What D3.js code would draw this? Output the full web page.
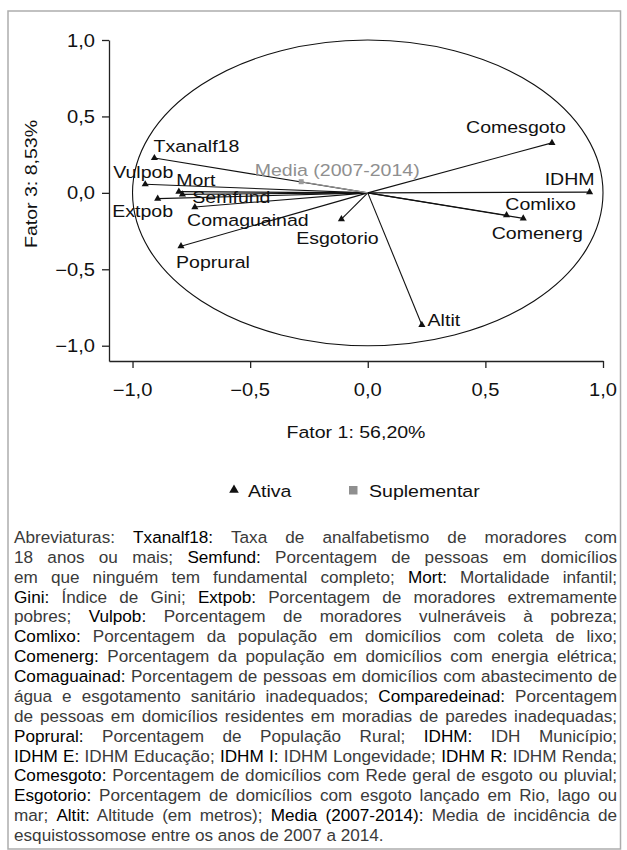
<!DOCTYPE html>
<html>
<head>
<meta charset="utf-8">
<script src="https://cdn.jsdelivr.net/npm/d3@7"></script>
<style>
body { margin: 0; background: #fff; }
svg { display: block; }
text { font-family: "Liberation Sans", Arial, Helvetica, sans-serif; }
</style>
</head>
<body>
<svg id="chart" width="627" height="850"></svg>
<script>
'use strict';
// variable names and their coordinates on factors 1 and 3
const varNames = ["Comesgoto", "IDHM", "Comlixo", "Comenerg", "Altit", "Esgotorio",
	"Poprural", "Comaguainad", "Semfund", "Mort", "Extpob", "Vulpob", "Txanalf18",
	"Media (2007-2014)"]
const fator1 = [0.783, 0.943, 0.590, 0.661, 0.230, -0.112,
	-0.794, -0.735, -0.788, -0.803, -0.893, -0.946, -0.907, -0.283]
const fator3 = [0.327, 0.005, -0.146, -0.167, -0.864, -0.172,
	-0.349, -0.093, -0.010, 0.008, -0.038, 0.056, 0.228, 0.073]
const varTypes = ["ativa", "ativa", "ativa", "ativa", "ativa", "ativa",
	"ativa", "ativa", "ativa", "ativa", "ativa", "ativa", "ativa", "suplementar"]
const tickValues = [-1, -0.5, 0, 0.5, 1]
const axisTitles = ["Fator 1: 56,20%", "Fator 3: 8,53%"]
const legendItems = ["Ativa", "Suplementar"]

// label placement (pixel offsets from the point, label centre / baseline)
const labelOffsets = [[-36, -10], [-20, -7], [34, -5], [14, 21], [22, 1], [-4, 25],
	[32, 22], [53, 19], [49, 9], [17, -6], [-15, 18], [-2, -6], [42, -6], [36, -6]]

// caption lines, **term** drawn darker
const captionLines = [
	"Abreviaturas: **Txanalf18:** Taxa de analfabetismo de moradores com",
	"18 anos ou mais; **Semfund:** Porcentagem de pessoas em domicílios",
	"em que ninguém tem fundamental completo; **Mort:** Mortalidade infantil;",
	"**Gini:** Índice de Gini; **Extpob:** Porcentagem de moradores extremamente",
	"pobres; **Vulpob:** Porcentagem de moradores vulneráveis à pobreza;",
	"**Comlixo:** Porcentagem da população em domicílios com coleta de lixo;",
	"**Comenerg:** Porcentagem da população em domicílios com energia elétrica;",
	"**Comaguainad:** Porcentagem de pessoas em domicílios com abastecimento de",
	"água e esgotamento sanitário inadequados; **Comparedeinad:** Porcentagem",
	"de pessoas em domicílios residentes em moradias de paredes inadequadas;",
	"**Poprural:** Porcentagem de População Rural; **IDHM:** IDH Município;",
	"**IDHM E:** IDHM Educação; **IDHM I:** IDHM Longevidade; **IDHM R:** IDHM Renda;",
	"**Comesgoto:** Porcentagem de domicílios com Rede geral de esgoto ou pluvial;",
	"**Esgotorio:** Porcentagem de domicílios com esgoto lançado em Rio, lago ou",
	"mar; **Altit:** Altitude (em metros); **Media (2007-2014):** Media de incidência de",
	"esquistossomose entre os anos de 2007 a 2014."
]

const SX = 1.15 // horizontal stretch of the type
const CAP_SX = 1.1
const GREY = "#9a9a9a"

let eSvg = d3.select("#chart")

// outer frame
eSvg.append("rect")
	.attr("x", 8).attr("y", 11).attr("width", 612.5).attr("height", 838)
	.attr("fill", "none").attr("stroke", "#adadad").attr("stroke-width", 1.5)

let x = d3.scaleLinear().domain([-1.1, 1]).range([109, 603])
let y = d3.scaleLinear().domain([-1.1, 1]).range([361, 40])

function addText(g, px, py, str, size, anchor, fill, rot) {
	return g.append("text")
		.attr("transform", `translate(${px},${py})` + (rot ? ` rotate(${rot})` : "") + ` scale(${SX},1)`)
		.attr("text-anchor", anchor || "start")
		.attr("font-size", size)
		.attr("fill", fill || "#111")
		.text(str) }

let fmt = v => d3.format(".1f")(v).replace(".", ",")

// axes (L shaped)
let gAxes = eSvg.append("g")
gAxes.append("g")
	.attr("transform", `translate(${x.range()[0]},0)`)
	.call(d3.axisLeft(y).tickValues(tickValues).tickSize(7).tickSizeOuter(0).tickFormat(""))
gAxes.append("g")
	.attr("transform", `translate(0,${y.range()[0]})`)
	.call(d3.axisBottom(x).tickValues(tickValues).tickSize(7).tickSizeOuter(0).tickFormat(""))
gAxes.selectAll("path, line").attr("stroke", "#222").attr("stroke-width", 1.3)

tickValues.forEach(v => {
	addText(gAxes, 95, y(v) + 6.5, fmt(v), 17.5, "end")
	addText(gAxes, x(v), 396, fmt(v), 17.5, "middle") })

addText(gAxes, (x.range()[0] + x.range()[1]) / 2, 438, axisTitles[0], 17, "middle")
addText(gAxes, 37, 184, axisTitles[1], 17, "middle", "#111", -90)

// correlation circle
eSvg.append("ellipse")
	.attr("cx", x(0)).attr("cy", y(0))
	.attr("rx", x(1) - x(0)).attr("ry", y(0) - y(1))
	.attr("fill", "none").attr("stroke", "#111").attr("stroke-width", 1.1)

// arrows
let tData = varNames.map((n, i) => ({name: n, f1: fator1[i], f3: fator3[i], type: varTypes[i], off: labelOffsets[i]}))
let gVars = eSvg.append("g")
gVars.selectAll("line")
	.data(tData)
	.enter().append("line")
	.attr("x1", x(0)).attr("y1", y(0))
	.attr("x2", d => x(d.f1)).attr("y2", d => y(d.f3))
	.attr("stroke", d => d.type === "ativa" ? "#111" : GREY)
	.attr("stroke-width", 1.1)

let triangle = d3.symbol(d3.symbolTriangle).size(22)
gVars.selectAll("path.mark")
	.data(tData.filter(d => d.type === "ativa"))
	.enter().append("path")
	.attr("class", "mark")
	.attr("d", triangle)
	.attr("transform", d => `translate(${x(d.f1)},${y(d.f3)})`)
	.attr("fill", "#111")
gVars.selectAll("rect.mark")
	.data(tData.filter(d => d.type !== "ativa"))
	.enter().append("rect")
	.attr("class", "mark")
	.attr("x", d => x(d.f1) - 2.5).attr("y", d => y(d.f3) - 2.5)
	.attr("width", 5).attr("height", 5)
	.attr("fill", GREY)

tData.forEach(d => {
	addText(gVars, x(d.f1) + d.off[0], y(d.f3) + d.off[1], d.name, 17, "middle",
		d.type === "ativa" ? "#111" : "#8f8f8f") })

// legend
let gLeg = eSvg.append("g")
gLeg.append("path")
	.attr("d", d3.symbol(d3.symbolTriangle).size(40))
	.attr("transform", "translate(234,490)")
	.attr("fill", "#111")
addText(gLeg, 248, 497, legendItems[0], 17, "start")
gLeg.append("rect")
	.attr("x", 349).attr("y", 486).attr("width", 8.5).attr("height", 8.5)
	.attr("fill", "#8f8f8f")
addText(gLeg, 369, 497, legendItems[1], 17, "start")

// caption, justified line by line
let gCap = eSvg.append("g")
let capLeft = 14, capWidth = 603, capTop = 543, capStep = 19.87
captionLines.forEach((line, i) => {
	let eText = gCap.append("text")
		.attr("transform", `translate(${capLeft},${capTop + i * capStep}) scale(${CAP_SX},1)`)
		.attr("font-size", 15.6)
		.attr("fill", "#3a3a3a")
	line.split("**").forEach((part, j) => {
		if (!part) return
		eText.append("tspan")
			.attr("fill", j % 2 ? "#000" : "#3a3a3a")
			.text(part) })
	if (i < captionLines.length - 1) {
		let natural = eText.node().getComputedTextLength()
		let spaces = (line.match(/ /g) || []).length
		let ws = (capWidth / CAP_SX - natural) / spaces
		eText.attr("word-spacing", ws) } })
</script>
</body>
</html>
